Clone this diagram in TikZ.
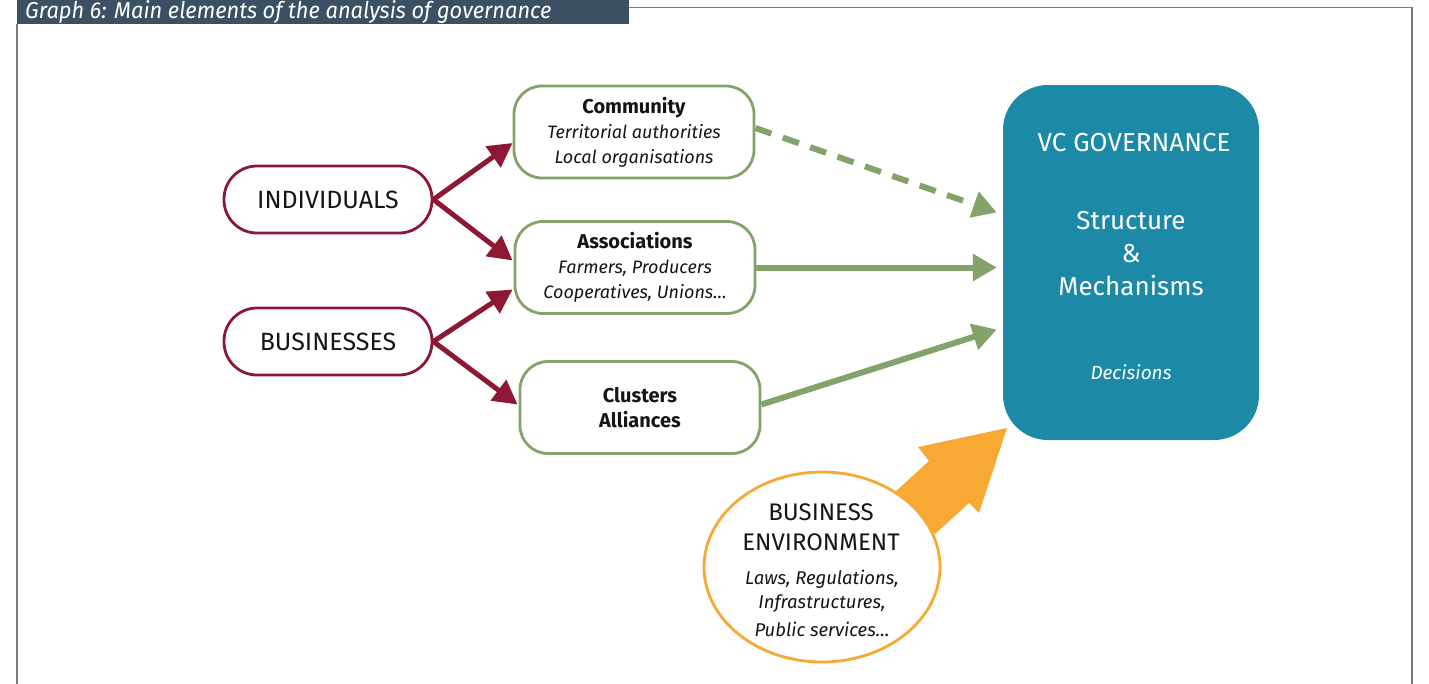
\documentclass[tikz,border=0pt]{standalone}
\usepackage{fontspec}
\setmainfont{Fira Sans}
\newfontfamily\titlefont[FakeStretch=0.95]{Fira Sans}
\usetikzlibrary{arrows.meta,calc,backgrounds,shapes.geometric}
\definecolor{redc}{HTML}{8E1834}
\definecolor{greenc}{HTML}{83A36A}
\definecolor{tealc}{HTML}{1C89A6}
\definecolor{orangec}{HTML}{F7A934}
\definecolor{barc}{HTML}{3B5062}
\definecolor{framec}{HTML}{7A7A7A}
\definecolor{textc}{HTML}{151515}
\newcommand{\bl}[1]{{\fontsize{20}{25}\selectfont\bfseries #1}}
\newcommand{\il}[1]{{\itshape #1}}
\tikzset{
  actor/.style={draw=redc,line width=2.8pt,fill=white,rounded corners=33pt,
    minimum width=208pt,minimum height=67pt,inner sep=0pt,text=textc,
    font=\fontsize{25}{30}\selectfont},
  group/.style={draw=greenc,line width=2.8pt,fill=white,rounded corners=28pt,
    minimum width=240pt,minimum height=92pt,inner sep=0pt,align=center,text=textc,
    font=\fontsize{18}{25}\selectfont},
  redarrow/.style={draw=redc,line width=5pt,-{Triangle[length=24pt,width=25pt]}},
  greenarrow/.style={draw=greenc,line width=6pt,-{Triangle[length=24pt,width=26pt]}},
  vctext/.style={text=white,font=\fontsize{26}{30}\selectfont},
  envtext/.style={text=textc,inner sep=0pt,font=\fontsize{24}{28}\selectfont},
  envsub/.style={text=textc,inner sep=0pt,font=\itshape\fontsize{18.5}{22}\selectfont},
}
\begin{document}
\begin{tikzpicture}[x=1pt,y=-1pt]
\useasboundingbox (0,0) rectangle (1429,683);
% frame and title
\draw[framec,line width=1.5pt] (629,7.5) -- (1412,7.5) -- (1412,690);
\draw[framec,line width=1.5pt] (17,24) -- (17,690);
\fill[barc] (17,0) rectangle (629,24);
\node[anchor=base west,text=white,inner sep=0pt,font=\titlefont\itshape\fontsize{23}{26}\selectfont] (title) at (25,18.5) {Graph 6: Main elements of the analysis of governance};

% left actors
\node[actor] (ind) at (328,199.5) {INDIVIDUALS};
\node[actor] (bus) at (328,341.5) {BUSINESSES};

% groups
\node[group] (com) at (634,132) {\bl{Community}\\\il{Territorial authorities}\\\il{Local organisations}};
\node[group] (asc) at (635,267.5) {\bl{Associations}\\\il{Farmers, Producers}\\\il{Cooperatives, Unions\dots}};
\node[group] (clu) at (640,407.5) {\bl{Clusters}\\\bl{Alliances}};

% governance box
\node[fill=tealc,rounded corners=45pt,minimum width=256pt,minimum height=355pt,inner sep=0pt] (vc) at (1131,262.5) {};
\node[vctext] (vct) at (1134,143) {VC GOVERNANCE};
\node[vctext] (vcs) at (1131,221) {Structure};
\node[vctext] (vca) at (1131,254) {\&};
\node[vctext] (vcm) at (1131,286) {Mechanisms};
\node[vctext,font=\itshape\fontsize{19}{22}\selectfont] (vcd) at (1131,372) {Decisions};

% business environment
\node[ellipse,draw=orangec,line width=2.8pt,fill=white,minimum width=236pt,minimum height=190pt,inner sep=0pt] (env) at (822,567) {};
\node[envtext] (env1) at (821,512) {BUSINESS};
\node[envtext] (env2) at (821,542) {ENVIRONMENT};
\node[envsub] (env3) at (822,579) {Laws, Regulations,};
\node[envsub] (env4) at (822,604) {Infrastructures,};
\node[envsub] (env5) at (822,629) {Public services\dots};
\begin{scope}[on background layer]
  \fill[orangec] (895,492) -- (929,461) -- (918,447) -- (1007,428) -- (979,513) -- (969,503) -- (935,534) -- cycle;
\end{scope}

% red connectors
\draw[redarrow] (ind.east) -- ($(com.west)+(0,11)$);
\draw[redarrow] (ind.east) -- ($(asc.west)+(-1,-7)$);
\draw[redarrow] (bus.east) -- ($(asc.west)+(-1,22)$);
\draw[redarrow] (bus.east) -- ($(clu.west)+(-1,-3)$);

% green connectors
\coordinate (g1) at ($(vc.west)+(-6,-50)$);
\coordinate (g2) at ($(vc.west)+(-6,5)$);
\coordinate (g3) at ($(vc.west)+(-6,67)$);
\draw[greenarrow,dash pattern=on 17pt off 12pt] ($(com.east)+(0,-4)$) -- (g1);
\draw[greenarrow] (asc.east) -- (g2);
\draw[greenarrow] ($(clu.east)+(0,-3)$) -- (g3);
\end{tikzpicture}
\end{document}
